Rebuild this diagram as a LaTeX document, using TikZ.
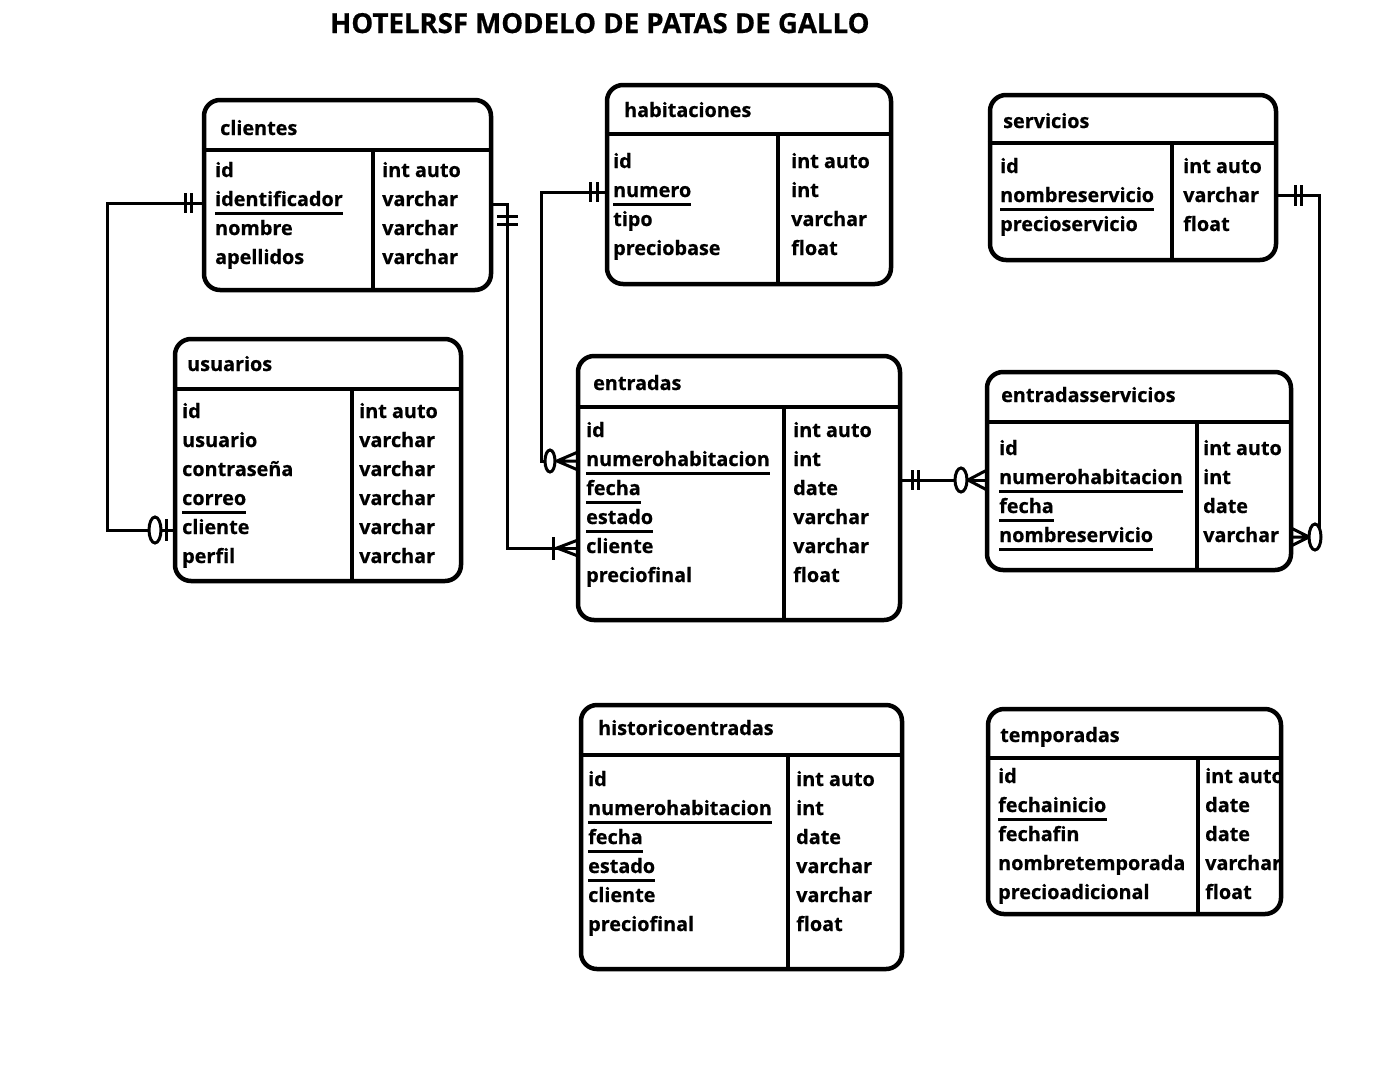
\documentclass[tikz,border=0pt]{standalone}
\usepackage{fontspec}
\setmainfont{Open Sans}[BoldFeatures={FakeBold=0.6}]
\newcommand\fieldfont{\fontsize{19.8}{22}\selectfont\bfseries}
\newcommand\titlefont{\fontsize{27.6}{32}\selectfont\bfseries}
\tikzset{
  tbl/.style={draw, line width=4.5pt, rounded corners=16pt, inner sep=0pt, fill=white},
  sepline/.style={line width=4.5pt},
  fld/.style={anchor=base west, inner sep=0pt, font=\fieldfont},
  conn/.style={line width=3pt},
  ul/.style={line width=3pt},
  mk/.style={line width=3pt},
  zero/.style={line width=3pt, fill=white},
}
% \tablebox{name}{left}{top}{right}{bottom}{headerY}{colX}
\newcommand\tablebox[7]{%
  \node[tbl, minimum width={(#4-#2)*1pt}, minimum height={(#5-#3)*1pt}] (#1) at ({(#2+#4)/2},{(#3+#5)/2}) {};
  \draw[sepline] (#1.west |- 0,#6) -- ++({#4-#2+3},0);
  \draw[sepline] (#7,#6) -- (#7,#5);
}
\newcommand\ulfield[1]{\draw[ul] ([yshift=-7pt]#1.base west) -- ([yshift=-7pt]#1.base east);}
\begin{document}
\begin{tikzpicture}[x=1pt,y=-1pt]
\useasboundingbox (0,0) rectangle (1398,1088);
\fill[white] (0,0) rectangle (1398,1088);

\node[anchor=base west, inner sep=0pt, font=\titlefont] (title) at (330,33) {HOTELRSF MODELO DE PATAS DE GALLO};

% ---------- connectors (drawn first) ----------
% clientes -- usuarios
\coordinate (k1) at (107,203);
\draw[conn] (204,203) -- (k1) |- (175,530);
% clientes -- entradas
\draw[conn] (491,204) -| (507,548) -- (578,548);
% habitaciones -- entradas
\draw[conn] (607,192) -| (541,461) -- (550,461);
% entradas -- entradasservicios
\draw[conn] (900,480) -- (987,480);
% servicios -- entradasservicios
\draw[conn] (1276,195) -| (1319,537);

% ---------- tables ----------
\tablebox{cli}{204}{100}{491}{290}{150}{373}
\tablebox{usu}{175}{339}{461}{581}{389}{352}
\tablebox{hab}{607}{85}{891}{284}{134}{778}
\tablebox{ent}{578}{356}{900}{620}{407}{784}
\tablebox{ser}{990}{95}{1276}{260}{143}{1172}
\tablebox{ens}{987}{372}{1291}{570}{422}{1197}
\tablebox{his}{581}{705}{902}{969}{755}{788}
\tablebox{tem}{988}{709}{1281}{914}{758}{1198}

% clientes
\node[fld] (cli-t) at (220,135) {clientes};
\foreach \f [count=\i] in {id,identificador,nombre,apellidos}
  \node[fld] (cli-f\i) at (215,{177+29*(\i-1)}) {\f};
\foreach \f [count=\i] in {int auto,varchar,varchar,varchar}
  \node[fld] (cli-y\i) at (382,{177+29*(\i-1)}) {\f};
\ulfield{cli-f2}

% usuarios
\node[fld] (usu-t) at (187,371) {usuarios};
\foreach \f [count=\i] in {id,usuario,contraseña,correo,cliente,perfil}
  \node[fld] (usu-f\i) at (182,{418+29*(\i-1)}) {\f};
\foreach \f [count=\i] in {int auto,varchar,varchar,varchar,varchar,varchar}
  \node[fld] (usu-y\i) at (359,{418+29*(\i-1)}) {\f};
\ulfield{usu-f4}

% habitaciones
\node[fld] (hab-t) at (624,117) {habitaciones};
\foreach \f [count=\i] in {id,numero,tipo,preciobase}
  \node[fld] (hab-f\i) at (613,{168+29*(\i-1)}) {\f};
\foreach \f [count=\i] in {int auto,int,varchar,float}
  \node[fld] (hab-y\i) at (791,{168+29*(\i-1)}) {\f};
\ulfield{hab-f2}

% entradas
\node[fld] (ent-t) at (593,390) {entradas};
\foreach \f [count=\i] in {id,numerohabitacion,fecha,estado,cliente,preciofinal}
  \node[fld] (ent-f\i) at (586,{437+29*(\i-1)}) {\f};
\foreach \f [count=\i] in {int auto,int,date,varchar,varchar,float}
  \node[fld] (ent-y\i) at (793,{437+29*(\i-1)}) {\f};
\ulfield{ent-f2}\ulfield{ent-f3}\ulfield{ent-f4}

% servicios
\node[fld] (ser-t) at (1003,128) {servicios};
\foreach \f [count=\i] in {id,nombreservicio,precioservicio}
  \node[fld] (ser-f\i) at (1000,{173+29*(\i-1)}) {\f};
\foreach \f [count=\i] in {int auto,varchar,float}
  \node[fld] (ser-y\i) at (1183,{173+29*(\i-1)}) {\f};
\ulfield{ser-f2}

% entradasservicios
\node[fld] (ens-t) at (1001,402) {entradasservicios};
\foreach \f [count=\i] in {id,numerohabitacion,fecha,nombreservicio}
  \node[fld] (ens-f\i) at (999,{455+29*(\i-1)}) {\f};
\foreach \f [count=\i] in {int auto,int,date,varchar}
  \node[fld] (ens-y\i) at (1203,{455+29*(\i-1)}) {\f};
\ulfield{ens-f2}\ulfield{ens-f3}\ulfield{ens-f4}

% historicoentradas
\node[fld] (his-t) at (598,735) {historicoentradas};
\foreach \f [count=\i] in {id,numerohabitacion,fecha,estado,cliente,preciofinal}
  \node[fld] (his-f\i) at (588,{786+29*(\i-1)}) {\f};
\foreach \f [count=\i] in {int auto,int,date,varchar,varchar,float}
  \node[fld] (his-y\i) at (796,{786+29*(\i-1)}) {\f};
\ulfield{his-f2}\ulfield{his-f3}\ulfield{his-f4}

% temporadas
\node[fld] (tem-t) at (1000,742) {temporadas};
\foreach \f [count=\i] in {id,fechainicio,fechafin,nombretemporada,precioadicional}
  \node[fld] (tem-f\i) at (998,{783+29*(\i-1)}) {\f};
\foreach \f [count=\i] in {int auto,date,date,varchar,float}
  \node[fld] (tem-y\i) at (1205,{783+29*(\i-1)}) {\f};
\ulfield{tem-f2}

% ---------- cardinality marks ----------
% clientes left: one and only one
\draw[mk] (185,193) -- (185,213) (191,193) -- (191,213);
% usuarios left: zero or one
\draw[mk] (166,519) -- (166,541);
\draw[zero] (155,530) ellipse [x radius=6, y radius=13];
% clientes right: one and only one (on vertical)
\draw[mk] (497,216) -- (518,216) (497,224) -- (518,224);
% entradas cliente: one or many
\draw[mk] (553,537) -- (553,560);
\draw[mk] (578,540) -- (557,548) -- (578,556);
% habitaciones left: one and only one
\draw[mk] (590,182) -- (590,202) (597,182) -- (597,202);
% entradas numerohabitacion: zero or many
\draw[mk] (578,452) -- (557,461) -- (578,470) (557,461) -- (578,461);
\draw[zero] (550,461) ellipse [x radius=5, y radius=11];
% entradas right: one and only one
\draw[mk] (912,470) -- (912,490) (918,470) -- (918,490);
% entradasservicios left: zero or many
\draw[mk] (987,470) -- (968,480) -- (987,490);
\draw[zero] (961,480) ellipse [x radius=6, y radius=12];
% servicios right: one and only one
\draw[mk] (1295,185) -- (1295,206) (1301,185) -- (1301,206);
% entradasservicios right: zero or many
\draw[mk] (1291,528) -- (1309,537) -- (1291,546) (1291,537) -- (1309,537);
\draw[zero] (1315,537) ellipse [x radius=6, y radius=13];
\end{tikzpicture}
\end{document}
